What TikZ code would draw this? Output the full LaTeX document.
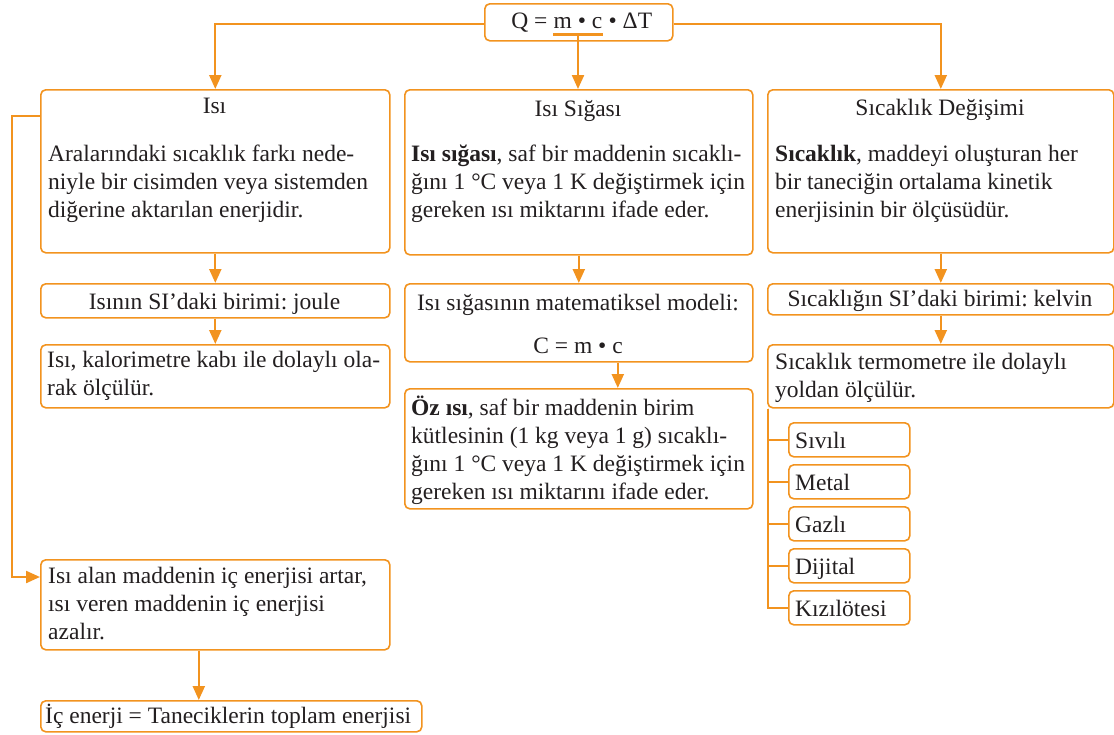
\documentclass[tikz,border=0pt]{standalone}
\usepackage{fontspec}
\setmainfont{Liberation Serif}
\usetikzlibrary{arrows.meta}
\definecolor{acc}{HTML}{F2931F}
\definecolor{ink}{HTML}{231F20}
\frenchspacing

% rounded box given by its corners: name, x1, y1, x2, y2
\newcommand\cbox[5]{\node[box,anchor=north west,minimum width={(#4)-(#2)},minimum height={(#5)-(#3)}] (#1) at (#2,#3) {};}
% stacked lines with a fixed line distance; the baseline is that of the first line
\newcommand\para[1]{\vtop{\baselineskip=28pt\lineskiplimit=-100pt #1}}

\begin{document}
\begin{tikzpicture}[x=1pt,y=-1pt,
  box/.style={draw=acc, line width=1.6pt, rounded corners=5pt, fill=white, inner sep=0pt},
  txt/.style={inner sep=0pt, text=ink, font=\fontsize{23.5}{28}\selectfont},
  link/.style={draw=acc, line width=2.2pt},
  arr/.style={link, -{Triangle[length=14pt,width=12pt]}},
]
\useasboundingbox (0,0) rectangle (1114,734);

% boxes
\cbox{top}{484}{3}{672}{40}
\cbox{isi}{40}{89}{389}{252}
\cbox{sig}{404}{89}{752}{254}
\cbox{sic}{767}{89}{1113}{252}
\cbox{joule}{40}{283}{389}{317}
\cbox{kal}{40}{344}{389}{407}
\cbox{model}{404}{283}{752}{361}
\cbox{oz}{404}{388}{752}{508}
\cbox{kelvin}{767}{283}{1113}{314}
\cbox{termo}{767}{344}{1113}{407}
\cbox{s1}{788}{422}{909}{456}
\cbox{s2}{788}{464}{909}{498}
\cbox{s3}{788}{506}{909}{540}
\cbox{s4}{788}{548}{909}{582}
\cbox{s5}{788}{590}{909}{624}
\cbox{alan}{40}{559}{389}{649}
\cbox{ic}{40}{700}{421}{731}

% formula
\node[txt, anchor=base] (mc) at (578,28) {m • c};
\node[txt, anchor=base east] (qeq) at ([xshift=-5.9pt]mc.base west) {Q =};
\node[txt, anchor=base west] (dt) at ([xshift=5.9pt]mc.base east) {• ΔT};

% titles
\node[txt, anchor=base] (isiH) at (214.5,113) {Isı};
\node[txt, anchor=base] (sigH) at (578,116) {Isı Sığası};
\node[txt, anchor=base] (sicH) at (940,115) {Sıcaklık Değişimi};

% text of the boxes
\node[txt, anchor=base west] (isiB) at (48,161) {\para{%
  \hbox{Aralarındaki sıcaklık farkı nede-}
  \hbox{niyle bir cisimden veya sistemden}
  \hbox{diğerine aktarılan enerjidir.}}};
\node[txt, anchor=base west] (sigB) at (411,161) {\para{%
  \hbox{\textbf{Isı sığası}, saf bir maddenin sıcaklı-}
  \hbox{ğını 1 °C veya 1 K değiştirmek için}
  \hbox{gereken ısı miktarını ifade eder.}}};
\node[txt, anchor=base west] (sicB) at (775,161) {\para{%
  \hbox{\textbf{Sıcaklık}, maddeyi oluşturan her}
  \hbox{bir taneciğin ortalama kinetik}
  \hbox{enerjisinin bir ölçüsüdür.}}};
\node[txt, anchor=base] (jouleT) at (214.5,309) {Isının SI’daki birimi: joule};
\node[txt, anchor=base west] (kalT) at (47,367) {\para{%
  \hbox{Isı, kalorimetre kabı ile dolaylı ola-}
  \hbox{rak ölçülür.}}};
\node[txt, anchor=base] (modelA) at (578,310) {Isı sığasının matematiksel modeli:};
\node[txt, anchor=base] (modelB) at (578,353) {C = m • c};
\node[txt, anchor=base west] (ozT) at (411,415) {\para{%
  \hbox{\textbf{Öz ısı}, saf bir maddenin birim}
  \hbox{kütlesinin (1 kg veya 1 g) sıcaklı-}
  \hbox{ğını 1 °C veya 1 K değiştirmek için}
  \hbox{gereken ısı miktarını ifade eder.}}};
\node[txt, anchor=base] (kelvinT) at (940,306) {Sıcaklığın SI’daki birimi: kelvin};
\node[txt, anchor=base west] (termoT) at (775,369) {\para{%
  \hbox{Sıcaklık termometre ile dolaylı}
  \hbox{yoldan ölçülür.}}};
\node[txt, anchor=base west] (s1T) at (795,448) {Sıvılı};
\node[txt, anchor=base west] (s2T) at (795,490) {Metal};
\node[txt, anchor=base west] (s3T) at (795,532) {Gazlı};
\node[txt, anchor=base west] (s4T) at (795,574) {Dijital};
\node[txt, anchor=base west] (s5T) at (795,616) {Kızılötesi};
\node[txt, anchor=base west] (alanT) at (48,583) {\para{%
  \hbox{Isı alan maddenin iç enerjisi artar,}
  \hbox{ısı veren maddenin iç enerjisi}
  \hbox{azalır.}}};
\node[txt, anchor=base west] (icT) at (45,723) {İç enerji = Taneciklerin toplam enerjisi};

% connectors
\draw[arr] ([yshift=-2pt]top.west) -| (isi.north);
\draw[arr] ([yshift=-2pt]top.east) -| (sic.north);
\draw[link] ([yshift=-6pt]mc.south west) -- ([yshift=-6pt]mc.south east);
\draw[arr] ([yshift=-6pt]mc.south) coordinate (u1) -- (u1 |- sig.north);
\draw[arr] (isi.south) -- (joule.north);
\draw[arr] (joule.south) -- (kal.north);
\draw[arr] (sig.south) -- (model.north);
\draw[arr] ([xshift=39pt]model.south) -- ([xshift=39pt]oz.north);
\draw[arr] (sic.south) -- (kelvin.north);
\draw[arr] (kelvin.south) -- (termo.north);
\draw[arr] ([yshift=-27pt]isi.north west) -- ++(-28,0) |- ([yshift=-18pt]alan.north west);
\draw[arr] ([xshift=-16.5pt]alan.south) coordinate (a1) -- (a1 |- ic.north);
\foreach \s in {s1,s2,s3,s4,s5}
  \draw[link] ([xshift=1pt]termo.south west) |- (\s.west);
\end{tikzpicture}
\end{document}
